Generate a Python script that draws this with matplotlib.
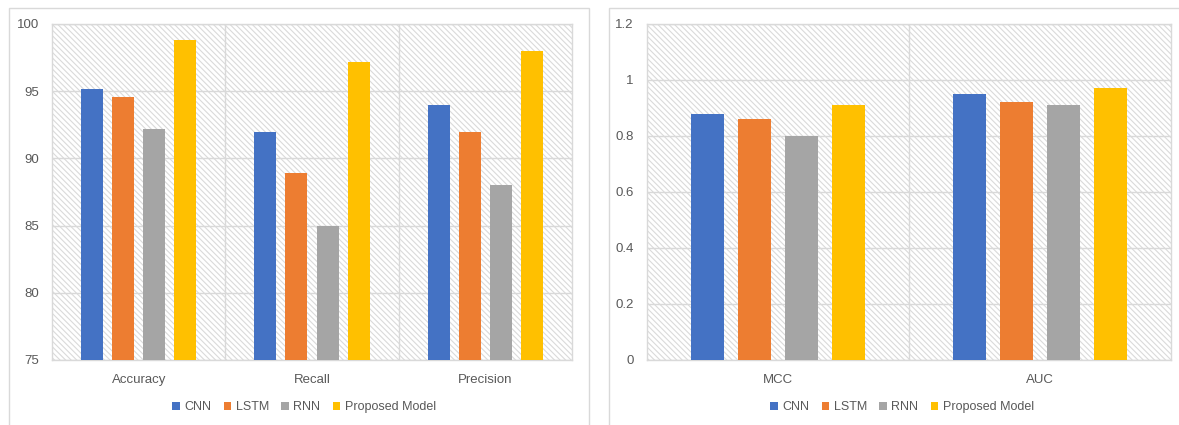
import matplotlib
matplotlib.use("Agg")
import matplotlib.pyplot as plt
from matplotlib.patches import Rectangle, Patch
import numpy as np

plt.rcParams['font.family'] = ['Liberation Sans', 'DejaVu Sans']
plt.rcParams['hatch.linewidth'] = 0.8

models = ["CNN", "LSTM", "RNN", "Proposed Model"]
colors = ["#4472C4", "#ED7D31", "#A5A5A5", "#FFC000"]

left_metrics = ["Accuracy", "Recall", "Precision"]
left_values = {
    "CNN": [95.2, 92.0, 94.0],
    "LSTM": [94.6, 88.9, 92.0],
    "RNN": [92.2, 85.0, 88.0],
    "Proposed Model": [98.8, 97.2, 98.0],
}
left_ticks = [75, 80, 85, 90, 95, 100]
left_ticklabels = ["75", "80", "85", "90", "95", "100"]

right_metrics = ["MCC", "AUC"]
right_values = {
    "CNN": [0.88, 0.95],
    "LSTM": [0.86, 0.92],
    "RNN": [0.80, 0.91],
    "Proposed Model": [0.91, 0.97],
}
right_ticks = [0, 0.2, 0.4, 0.6, 0.8, 1.0, 1.2]
right_ticklabels = ["0", "0.2", "0.4", "0.6", "0.8", "1", "1.2"]

GRID = "#d9d9d9"
TEXT = "#595959"

W, H = 1179, 425
fig = plt.figure(figsize=(W / 100, H / 100), dpi=100)


def fx(px):
    return px / W


def fy(py):
    return 1 - py / H


# outer chart frames
for x0, x1 in [(9, 589), (609, 1195)]:
    fig.add_artist(Rectangle((fx(x0), fy(440)), fx(x1 - x0), (440 - 8) / H,
                             transform=fig.transFigure, facecolor="none",
                             edgecolor=GRID, lw=1.0, clip_on=False))


def panel(rect, metrics, values, ticks, ticklabels, ylim, legend_x):
    ax = fig.add_axes(rect)
    n = len(metrics)
    ax.set_xlim(0, n)
    ax.set_ylim(*ylim)
    ax.patch.set_facecolor("white")
    ax.add_patch(Rectangle((0, 0), 1, 1, transform=ax.transAxes,
                           facecolor="white", edgecolor="#dadada",
                           hatch="\\\\\\\\\\\\", lw=0, zorder=0))
    for t in ticks:
        ax.axhline(t, color=GRID, lw=1.0, zorder=1)
    for i in range(1, n):
        ax.axvline(i, color=GRID, lw=1.0, zorder=1)
    offsets = [-0.27, -0.09, 0.09, 0.27]
    width = 0.127
    x = np.arange(n) + 0.5
    for m, c, off in zip(models, colors, offsets):
        ax.bar(x + off, np.array(values[m]) - ylim[0], width,
               bottom=ylim[0], color=c, zorder=3, lw=0)
    ax.set_yticks(ticks)
    ax.set_yticklabels(ticklabels)
    ax.set_xticks(x)
    ax.set_xticklabels(metrics)
    ax.tick_params(axis="both", length=0, colors=TEXT, labelsize=9.5)
    ax.tick_params(axis="y", pad=9.5)
    ax.tick_params(axis="x", pad=10)
    for s in ax.spines.values():
        s.set_color(GRID)
        s.set_linewidth(1.0)
    handles = [Patch(facecolor=c, edgecolor="none") for c in colors]
    fig.legend(handles, models, loc="center", bbox_to_anchor=(legend_x, fy(407)),
               ncol=4, frameon=False, fontsize=9, handlelength=0.6,
               handleheight=0.6, handletextpad=0.35, columnspacing=1.0,
               labelcolor=TEXT)
    return ax


panel([fx(52), fy(360), fx(572 - 52), (360 - 24) / H], left_metrics, left_values,
      left_ticks, left_ticklabels, (75, 100), fx(304))
panel([fx(647), fy(360), fx(1171 - 647), (360 - 24) / H], right_metrics, right_values,
      right_ticks, right_ticklabels, (0, 1.2), fx(902))

fig.savefig("out.png", dpi=100)
